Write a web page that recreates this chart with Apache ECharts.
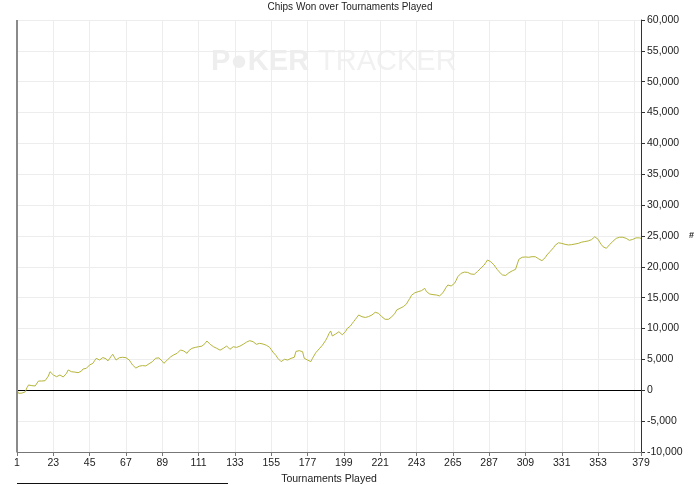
<!DOCTYPE html>
<html>
<head>
<meta charset="utf-8">
<script src="https://cdn.jsdelivr.net/npm/echarts@6/dist/echarts.min.js"></script>
<style>
html,body{margin:0;padding:0;background:#fff;}
#chart{width:700px;height:485px;}
</style>
</head>
<body>
<div id="chart"></div>
<script>
const titleText = "Chips Won over Tournaments Played";
const xAxisName = "Tournaments Played";
const yAxisName = "#";
const yMin = -10000, yMax = 60000, yStep = 5000;

const chipsWon = [
  0, -500, -650, -450, -600, -250, 400, 860, 700, 750,
  580, 700, 970, 1500, 1780, 1500, 1390, 1550, 1670, 2300,
  3010, 2700, 2480, 2300, 2200, 2350, 2480, 2300, 2150, 2450,
  2750, 3290, 3150, 3010, 3100, 2950, 2910, 2850, 2750, 3100,
  3450, 3400, 3560, 3850, 4100, 4250, 4370, 4800, 5180, 5050,
  4900, 5100, 5300, 5440, 5100, 4750, 5100, 5500, 5830, 5350,
  4900, 5100, 5280, 5250, 5350, 5300, 5280, 5100, 4900, 4500,
  4100, 3900, 3600, 3450, 3900, 4210, 4000, 3820, 3950, 4100,
  4300, 4500, 4630, 4900, 5200, 5440, 5250, 5070, 4700, 4370,
  4650, 4900, 5150, 5400, 5610, 5750, 5850, 5990, 6250, 6530,
  6450, 6370, 6200, 5990, 6400, 6690, 6800, 6900, 6950, 7000,
  7060, 7100, 7150, 7230, 7600, 7990, 7700, 7450, 7250, 7060,
  6900, 6800, 6690, 6500, 6370, 6800, 6900, 7180, 7000, 6640,
  6850, 7060, 7000, 6950, 6970, 7150, 7340, 7450, 7610, 7800,
  7950, 8040, 7950, 7870, 7650, 7450, 7550, 7610, 7550, 7500,
  7450, 7300, 7150, 6970, 6600, 6200, 5990, 5600, 5180, 4900,
  4640, 4850, 5020, 4950, 4900, 5050, 5180, 5250, 5350, 6300,
  6530, 6420, 6350, 6250, 5180, 5000, 4900, 4750, 4640, 5180,
  4900, 6090, 6400, 6700, 6970, 7300, 7610, 8100, 8590, 9200,
  9610, 8800, 8950, 9120, 9300, 9490, 9250, 9000, 8800, 9500,
  10000, 10250, 10420, 10800, 11150, 11500, 11850, 12200, 12050, 11920,
  11850, 11800, 11830, 11950, 12100, 12200, 12400, 12640, 12550, 12470,
  12250, 11920, 11700, 11500, 11390, 11500, 11660, 11900, 12200, 12500,
  13010, 13150, 13280, 13400, 13550, 13660, 14000, 14500, 14900, 15400,
  15710, 15800, 15950, 15980, 16050, 16140, 16350, 16520, 16000, 15710,
  15600, 15440, 15500, 15400, 15440, 15350, 15300, 15280, 15800, 16250,
  16700, 17060, 16950, 16900, 17100, 17330, 17800, 18400, 18700, 18950,
  19050, 19150, 19210, 19100, 18950, 18840, 18850, 18790, 19000, 19250,
  19490, 19800, 20050, 20300, 20700, 21110, 21000, 20830, 20600, 20300,
  19900, 19550, 19210, 18950, 18700, 18520, 18600, 18800, 19050, 19200,
  19350, 19490, 19600, 19760, 21220, 21400, 21550, 21640, 21600, 21500,
  21550, 21600, 21650, 21600, 21640, 21550, 21300, 21220, 21000, 20830,
  21500, 21920, 22200, 22500, 22730, 23100, 23500, 23810, 23900, 23910,
  23800, 23700, 23650, 23600, 23550, 23540, 23600, 23650, 23700, 23700,
  23800, 23900, 24000, 24070, 24100, 24150, 24200, 24240, 24400, 24650,
  24880, 24700, 24460, 24000, 23600, 23260, 23100, 23000, 23300, 23600,
  23910, 24150, 24400, 24620, 24700, 24800, 24880, 24800, 24700, 24620,
  24450, 24300, 24240, 24450, 24620, 24700, 24780, 24700, 24620
];
const tournaments = chipsWon.map((v, i) => String(i + 1));
const labelEvery = 22;

const showIdx = (idx) => idx % labelEvery === 0 || idx === tournaments.length - 1;
const font = "Liberation Sans, Arial, sans-serif";

const chart = echarts.init(document.getElementById('chart'), null, {renderer: 'canvas'});
chart.setOption({
  animation: false,
  backgroundColor: '#ffffff',
  title: {
    text: titleText, left: 'center', top: -3,
    textStyle: {fontFamily: font, fontSize: 10, fontWeight: 'normal', color: '#222'}
  },
  graphic: [
    {type: 'text', left: 211, top: 47, silent: true, z: 0,
     style: {text: 'P\u25CFKER', font: 'bold 29px ' + font, fill: '#eeeeee'}},
    {type: 'text', left: 318, top: 47, silent: true, z: 0,
     style: {text: 'TRACKER', font: '29px ' + font, fill: '#f1f1f1'}},
    {type: 'line', silent: true, z: 10,
     shape: {x1: 17, y1: 20, x2: 17, y2: 452}, style: {stroke: '#8a8a8a', lineWidth: 2}},
    {type: 'line', silent: true,
     shape: {x1: 17, y1: 483.5, x2: 228, y2: 483.5}, style: {stroke: '#111', lineWidth: 1}}
  ],
  grid: {left: 17, right: 59, top: 20, bottom: 33, containLabel: false, outerBoundsMode: 'none'},
  xAxis: {
    type: 'category', data: tournaments, boundaryGap: false,
    name: xAxisName, nameLocation: 'middle', nameGap: 20,
    nameTextStyle: {fontFamily: font, fontSize: 10.5, color: '#222'},
    axisLine: {show: true, onZero: false, lineStyle: {color: '#777', width: 1}},
    axisTick: {show: true, interval: showIdx, length: 4, lineStyle: {color: '#777'}},
    axisLabel: {interval: showIdx, fontFamily: font, fontSize: 10.5, color: '#222', margin: 6, showMaxLabel: true},
    splitLine: {show: true, interval: showIdx, lineStyle: {color: '#ededed', width: 1}}
  },
  yAxis: {
    type: 'value', position: 'right', min: yMin, max: yMax, interval: yStep,
    name: yAxisName, nameLocation: 'middle', nameGap: 48, nameRotate: 0,
    nameTextStyle: {fontFamily: font, fontSize: 9, color: '#222', fontWeight: 'bold'},
    axisLine: {show: true, onZero: false, lineStyle: {color: '#333', width: 1}},
    axisTick: {show: true, inside: false, length: 4, lineStyle: {color: '#333'}},
    axisLabel: {fontFamily: font, fontSize: 10.5, color: '#222', margin: 6,
      formatter: (v) => v.toLocaleString('en-US')},
    splitLine: {show: true, lineStyle: {color: '#ededed', width: 1}}
  },
  series: [{
    type: 'line', data: chipsWon, showSymbol: false, symbol: 'none',
    lineStyle: {color: '#b5b53a', width: 1},
    markLine: {
      silent: true, symbol: ['none', 'none'], label: {show: false},
      lineStyle: {color: '#000', width: 1, type: 'solid'},
      data: [{yAxis: 0}]
    },
    z: 5
  }]
});
</script>
</body>
</html>
